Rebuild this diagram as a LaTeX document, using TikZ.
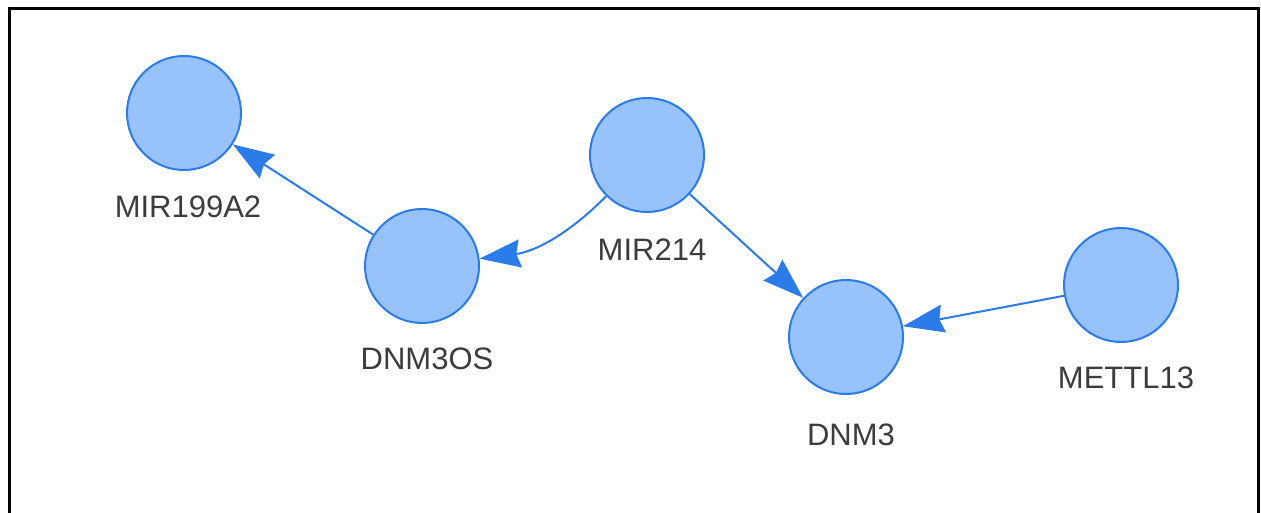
\documentclass[tikz,border=0pt]{standalone}
\usepackage{fontspec}
\setmainfont{Liberation Sans}
\usetikzlibrary{arrows.meta}
\definecolor{nodefill}{HTML}{97C2FC}
\definecolor{nodeline}{HTML}{2B7CE9}
\definecolor{labeltext}{HTML}{3C3C3C}
\begin{document}
\begin{tikzpicture}[x=1pt,y=1pt,
  gene/.style={circle,draw=nodeline,fill=nodefill,line width=2pt,minimum size=114pt,inner sep=0pt},
  genelabel/.style={anchor=base,text=labeltext,font=\fontsize{31}{36}\selectfont,inner sep=0pt},
  link/.style={draw=nodeline,line width=2pt,-{Stealth[length=41pt,width=28pt,inset=4pt]}}]
\useasboundingbox (0,0) rectangle (1261,-513);
\fill[white] (0,0) rectangle (1261,-513);
\draw[line width=3pt,black] (9,-530) -- (9,-9) -- (1258.5,-9) -- (1258.5,-530);
\node[gene] (mir199) at (184,-113) {};
\node[gene] (dnm3os) at (422,-266) {};
\node[gene] (mir214) at (647,-155) {};
\node[gene] (dnm3) at (846,-337) {};
\node[gene] (mettl) at (1121,-285) {};
\node[genelabel] (lmir199) at (188,-218) {MIR199A2};
\node[genelabel] (ldnm3os) at (427,-369) {DNM3OS};
\node[genelabel] (lmir214) at (652,-260) {MIR214};
\node[genelabel] (ldnm3) at (851,-445) {DNM3};
\node[genelabel] (lmettl) at (1126,-388) {METTL13};
\draw[link] (dnm3os) -- (mir199);
\draw[link] (mir214) to[bend left=19] (dnm3os);
\draw[link] (mir214) -- (dnm3);
\draw[link] (mettl) -- (dnm3);
\end{tikzpicture}
\end{document}
